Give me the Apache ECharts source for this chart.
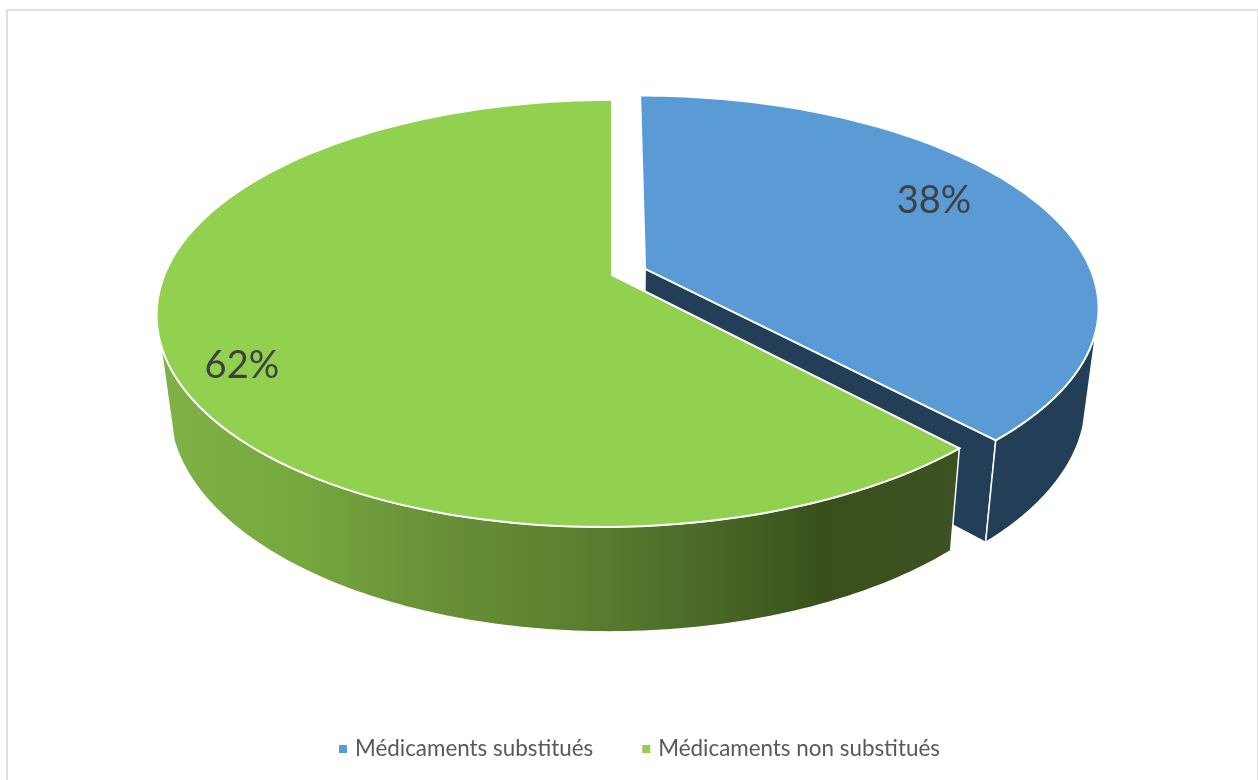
<!DOCTYPE html>
<html>
<head>
<meta charset="utf-8">
<style>html,body{margin:0;padding:0;background:#fff}#c{width:1258px;height:780px}</style>
<script src="https://cdn.jsdelivr.net/npm/echarts@6/dist/echarts.min.js"></script>
</head>
<body>
<div id="c"></div>
<script>
var categories = ['Médicaments substitués', 'Médicaments non substitués'];
var values = [38, 62];
var topColors = ['#5b9bd5', '#92d050'];
var exploded = [0.08, 0];
var wallEndAngles = [106, 252];
var labelFractions = [0.73, 0.84];
var labelShifts = [[2, -16], [1, 23]];

var total = values.reduce(function (a, b) { return a + b; }, 0);
var TOP = { x0: 612, y0: 275, a: 447.6, b: 206.6, k: 0.18, shear: 10 };
var BOTTOM = { x0: 612, y0: 369, a: 436.5, b: 219, k: 0.167, shear: 3 };

function project(disc, u, v) {
  var d = 1 + disc.k * v;
  var lean = v < 0 ? disc.shear * v * v : 0;
  return [disc.x0 + disc.a * u / d - lean, disc.y0 - disc.b * v / d];
}
function model(deg, r, slice) {
  var t = deg * Math.PI / 180;
  var mid = midAngle(slice) * Math.PI / 180;
  var e = exploded[slice];
  return [r * Math.sin(t) + e * Math.sin(mid), r * Math.cos(t) + e * Math.cos(mid)];
}
function startAngle(slice) {
  var s = 0;
  for (var i = 0; i < slice; i++) s += values[i];
  return s / total * 360;
}
function endAngle(slice) { return startAngle(slice) + values[slice] / total * 360; }
function midAngle(slice) { return (startAngle(slice) + endAngle(slice)) / 2; }
function arc(disc, slice, from, to) {
  var pts = [], n = 120;
  for (var i = 0; i <= n; i++) {
    var m = model(from + (to - from) * i / n, 1, slice);
    pts.push(project(disc, m[0], m[1]));
  }
  return pts;
}
function hub(disc, slice) {
  var m = model(0, 0, slice);
  return project(disc, m[0], m[1]);
}

var navy = '#233f58';
var greenWall = {
  type: 'linear', x: 172, y: 0, x2: 955, y2: 0, global: true,
  colorStops: [
    { offset: 0, color: '#7fb146' },
    { offset: 0.16, color: '#77a83f' },
    { offset: 0.32, color: '#6a9238' },
    { offset: 0.52, color: '#5a7f30' },
    { offset: 0.65, color: '#4d6d2a' },
    { offset: 0.78, color: '#3f5a20' },
    { offset: 0.835, color: '#394f1c' },
    { offset: 1, color: '#3c5321' }
  ]
};

function renderSlice(slice) {
  return function () {
    var s = startAngle(slice), e = endAngle(slice);
    var front = endAngle(0);
    var wallEnd = wallEndAngles[slice];
    var children = [];
    var hubTop = hub(TOP, slice), hubBottom = hub(BOTTOM, slice);
    var wallFill = slice === 0 ? navy : greenWall;
    var topFront = arc(TOP, slice, front, front)[0], bottomFront = arc(BOTTOM, slice, front, front)[0];
    // cut face of the pulled-out slice
    if (slice === 0) {
      children.push({
        type: 'polygon',
        shape: { points: [hubTop, topFront, bottomFront, hubBottom] },
        style: { fill: navy, stroke: '#fff', lineWidth: 1.5 }
      });
    }
    // outer wall, from the front cut to the silhouette tangent
    var wallTop = arc(TOP, slice, front, wallEnd);
    var wallBottom = arc(BOTTOM, slice, front, wallEnd).reverse();
    children.push({
      type: 'polygon',
      shape: { points: wallTop.concat(wallBottom) },
      style: { fill: wallFill, stroke: '#fff', lineWidth: 1.5 }
    });
    // top face
    children.push({
      type: 'polygon',
      shape: { points: [hubTop].concat(arc(TOP, slice, s, e)) },
      style: { fill: topColors[slice], stroke: '#fff', lineWidth: 2 }
    });
    // percentage label
    var m = model(midAngle(slice), labelFractions[slice], slice);
    var p = project(TOP, m[0], m[1]);
    children.push({
      type: 'text',
      x: p[0] + labelShifts[slice][0],
      y: p[1] + labelShifts[slice][1],
      style: {
        text: Math.round(values[slice] / total * 100) + '%',
        fill: '#404040',
        font: '38px Lato',
        align: 'center',
        verticalAlign: 'middle'
      }
    });
    return { type: 'group', children: children };
  };
}

var series = categories.map(function (name, i) {
  return {
    type: 'custom',
    name: name,
    coordinateSystem: 'none',
    silent: true,
    animation: false,
    itemStyle: { color: topColors[i] },
    data: [values[i]],
    renderItem: renderSlice(i)
  };
});

var chart = echarts.init(document.getElementById('c'), null, { renderer: 'canvas' });
chart.setOption({
  backgroundColor: '#fff',
  animation: false,
  legend: {
    data: categories,
    left: 334,
    top: 733,
    icon: 'rect',
    itemWidth: 8,
    itemHeight: 8,
    itemGap: 49,
    textStyle: { color: '#595959', fontSize: 22.4, fontFamily: 'Lato', padding: [0, 0, 0, 3] }
  },
  graphic: [
    { type: 'rect', shape: { x: 6, y: 9, width: 1252, height: 2 }, style: { fill: '#e0e0e0' }, silent: true },
    { type: 'rect', shape: { x: 6, y: 9, width: 2, height: 771 }, style: { fill: '#e0e0e0' }, silent: true },
    { type: 'rect', shape: { x: 1257, y: 9, width: 1, height: 771 }, style: { fill: '#e0e0e0' }, silent: true }
  ],
  series: series
});
</script>
</body>
</html>
